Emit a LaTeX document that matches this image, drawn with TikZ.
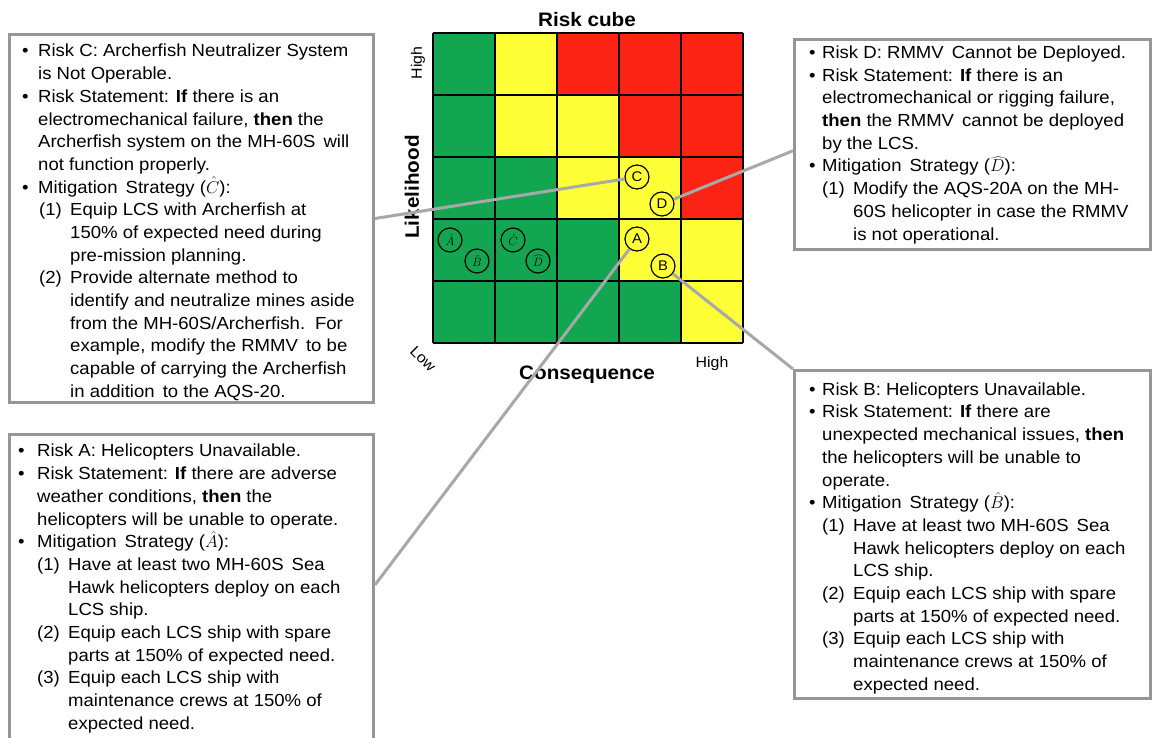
\documentclass[tikz,border=0pt]{standalone}
\usepackage{fontspec}
\setmainfont{Liberation Sans}[FakeStretch=1.06]
\definecolor{cG}{RGB}{18,166,80}
\definecolor{cY}{RGB}{255,255,55}
\definecolor{cR}{RGB}{250,35,20}
\definecolor{framegray}{RGB}{150,150,150}
\definecolor{linkgray}{RGB}{168,168,168}
\newcommand\Bu[2]{\makebox[#1pt][l]{\textbullet}#2}
\newcommand\In[2]{\hspace*{#1pt}#2}
\newcommand\Nu[3]{\hspace*{#1pt}\makebox[31pt][l]{#2}#3}
\begin{document}
\begin{tikzpicture}[x=1pt,y=-1pt,
  frame/.style={draw=framegray, fill=white, line width=3pt, inner sep=0pt, anchor=north west},
  boxtext/.style={anchor=north west, inner sep=0pt, align=left, font=\fontsize{17.5}{22.7}\selectfont},
  link/.style={draw=linkgray, line width=3pt},
  risk/.style={circle, draw=black, line width=1.2pt, minimum size=24pt, inner sep=0pt, font=\fontsize{14}{14}\selectfont},
  mitig/.style={risk, font=\fontsize{12}{12}\selectfont},
  gridline/.style={draw=black, line width=1.5pt},
  axbold/.style={font=\bfseries\fontsize{19.5}{20}\selectfont},
  axsmall/.style={font=\fontsize{15}{15}\selectfont}
]
\useasboundingbox (0,0) rectangle (1152,738);
\fill[white] (0,0) rectangle (1152,738);

% risk matrix cells
\foreach \row [count=\j from 0] in {{cG,cY,cR,cR,cR},{cG,cY,cY,cR,cR},{cG,cG,cY,cY,cR},{cG,cG,cG,cY,cY},{cG,cG,cG,cG,cY}}{
  \foreach \col [count=\i from 0] in \row {
    \fill[\col] (433+62*\i,33+62*\j) rectangle ++(62,62);
  }
}
\foreach \k in {0,...,5}{
  \draw[gridline] (433+62*\k,33) -- (433+62*\k,343);
  \draw[gridline] (433,33+62*\k) -- (743,33+62*\k);
}

% axis labels
\node[axbold, anchor=base] (title) at (587,27) {Risk cube};
\node[axbold, rotate=90] (likel) at (412,187) {Likelihood};
\node[axsmall, rotate=90] (highL) at (418,63) {High};
\node[axsmall, rotate=-45] (lowL) at (423,359) {Low};
\node[axbold, anchor=base] (conseq) at (587,379) {Consequence};
\node[axsmall, anchor=base] (highC) at (712,367) {High};

% frames
\node[frame, minimum width=364pt, minimum height=368pt] (boxC) at (8,33) {};
\node[frame, minimum width=356pt, minimum height=210pt] (boxD) at (793,38) {};
\node[frame, minimum width=364pt, minimum height=320pt] (boxA) at (8,433) {};
\node[frame, minimum width=356pt, minimum height=328pt] (boxB) at (793,369) {};

% risk circles
\node[risk] (cC) at (637,177) {C};
\node[risk] (cD) at (662,204) {D};
\node[risk] (cA) at (637,239) {A};
\node[risk] (cB) at (663,266) {B};
\node[mitig] (mA) at (450,240) {$\hat{A}$};
\node[mitig] (mB) at (477,261) {$\hat{B}$};
\node[mitig] (mC) at (513,240) {$\hat{C}$};
\node[mitig] (mD) at (538,261) {$\widehat{D}$};

% connectors
\draw[link] (cC) -- (boxC.east);
\draw[link] (cD) -- (boxD.182);
\draw[link] (cA) -- (boxA.3);
\draw[link] (cB) -- (boxB.north west);

% texts
\node[boxtext] (tC) at (22,42.7) {%
\Bu{16}{\rule{0pt}{14pt}Risk C: Archerfish Neutralizer System}\\
\In{16}{is Not Operable.}\\
\Bu{16}{Risk Statement: \textbf{If} there is an}\\
\In{16}{electromechanical failure, \textbf{then} the}\\
\In{16}{Archerfish system on the MH-60S\, will}\\
\In{16}{not function properly.}\\
\Bu{16}{Mitigation\, Strategy ($\hat{C}$):}\\
\Nu{17}{(1)}{Equip LCS with Archerfish at}\\
\In{48}{150\% of expected need during}\\
\In{48}{pre-mission planning.}\\
\Nu{17}{(2)}{Provide alternate method to}\\
\In{48}{identify and neutralize mines aside}\\
\In{48}{from the MH-60S/Archerfish.\, For}\\
\In{48}{example, modify the RMMV\, to be}\\
\In{48}{capable of carrying the Archerfish}\\
\In{48}{in addition\, to the AQS-20.}};

\node[boxtext] (tD) at (809,44.3) {%
\Bu{13}{\rule{0pt}{14pt}Risk D: RMMV\, Cannot be Deployed.}\\
\Bu{13}{Risk Statement: \textbf{If} there is an}\\
\In{13}{electromechanical or rigging failure,}\\
\In{13}{\textbf{then} the RMMV\, cannot be deployed}\\
\In{13}{by the LCS.}\\
\Bu{13}{Mitigation\, Strategy ($\widehat{D}$):}\\
\Nu{13}{(1)}{Modify the AQS-20A on the MH-}\\
\In{44}{60S helicopter in case the RMMV}\\
\In{44}{is not operational.}};

\node[boxtext] (tA) at (18,442.7) {%
\Bu{19}{\rule{0pt}{14pt}Risk A: Helicopters Unavailable.}\\
\Bu{19}{Risk Statement: \textbf{If} there are adverse}\\
\In{19}{weather conditions, \textbf{then} the}\\
\In{19}{helicopters will be unable to operate.}\\
\Bu{19}{Mitigation\, Strategy ($\hat{A}$):}\\
\Nu{19}{(1)}{Have at least two MH-60S\, Sea}\\
\In{50}{Hawk helicopters deploy on each}\\
\In{50}{LCS ship.}\\
\Nu{19}{(2)}{Equip each LCS ship with spare}\\
\In{50}{parts at 150\% of expected need.}\\
\Nu{19}{(3)}{Equip each LCS ship with}\\
\In{50}{maintenance crews at 150\% of}\\
\In{50}{expected need.}};

\node[boxtext] (tB) at (809,381) {%
\Bu{13}{\rule{0pt}{14pt}Risk B: Helicopters Unavailable.}\\
\Bu{13}{Risk Statement: \textbf{If} there are}\\
\In{13}{unexpected mechanical issues, \textbf{then}}\\
\In{13}{the helicopters will be unable to}\\
\In{13}{operate.}\\
\Bu{13}{Mitigation\, Strategy ($\hat{B}$):}\\
\Nu{13}{(1)}{Have at least two MH-60S\, Sea}\\
\In{44}{Hawk helicopters deploy on each}\\
\In{44}{LCS ship.}\\
\Nu{13}{(2)}{Equip each LCS ship with spare}\\
\In{44}{parts at 150\% of expected need.}\\
\Nu{13}{(3)}{Equip each LCS ship with}\\
\In{44}{maintenance crews at 150\% of}\\
\In{44}{expected need.}};
\end{tikzpicture}
\end{document}
